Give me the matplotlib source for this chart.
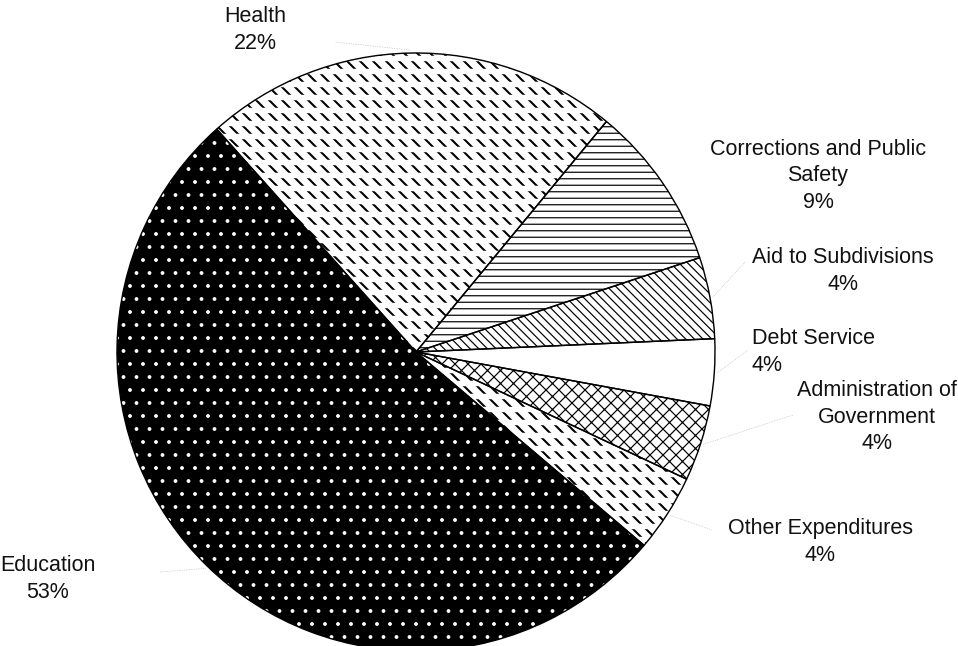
import matplotlib
matplotlib.use("Agg")
import matplotlib.pyplot as plt
import numpy as np

plt.rcParams['font.family'] = ['Liberation Sans', 'DejaVu Sans']

# ---- data ----
categories = ["Health", "Corrections and Public\nSafety", "Aid to Subdivisions",
              "Debt Service", "Administration of\nGovernment", "Other Expenditures",
              "Education"]
values = [22.6, 8.9, 4.4, 3.6, 4.1, 4.2, 52.2]
pct_labels = ["22%", "9%", "4%", "4%", "4%", "4%", "53%"]

# ---- styles / layout ----
W, H, DPI = 958, 646, 78
hatches = ['\\\\', '--', '\\\\\\', '', 'xx', '\\\\', '.']
hatch_lw = [1.9, 1.1, 1.1, 1.1, 1.1, 1.9, 1.1]
faces = ['white', 'white', 'white', 'white', 'white', 'white', 'black']
hatch_cols = ['black', 'black', 'black', 'black', 'black', 'black', 'white']
# white horizontal bands that break the diagonal strokes into dashes
break_hatch = ['-', '', '', '', '', '-', '']
# label anchor positions in pixels (x, y from top), alignment
label_pos = [(255, 30, 'center'), (818, 176, 'center'), (843, 271, 'center'),
             (752, 352, 'left'), (877, 417, 'center'), (820, 542, 'center'),
             (48, 579, 'center')]
leader_end = [(335, 42), None, (745, 262), (748, 350), (793, 415), (712, 530), (160, 572)]

cx, cy, R = 416, H - 352, 299
start = 131.8
FS = 15.5 * 100 / DPI  # font size in points to get ~21.5 px

fig = plt.figure(figsize=(W / DPI, H / DPI), dpi=DPI)
ax = fig.add_axes([0, 0, 1, 1])

wedges, _ = ax.pie(values, startangle=start, counterclock=False, center=(cx, cy),
                   radius=R, frame=True, wedgeprops=dict(linewidth=0))
for w, fc, hc, ht, hl in zip(wedges, faces, hatch_cols, hatches, hatch_lw):
    w.set_facecolor(fc)
    w.set_edgecolor(hc)
    w.set_hatch(ht)
    w.set_hatch_linewidth(hl)

brk, _ = ax.pie(values, startangle=start, counterclock=False, center=(cx, cy),
                radius=R, frame=True, wedgeprops=dict(linewidth=0, fill=False))
for w, bh in zip(brk, break_hatch):
    w.set_edgecolor('white')
    w.set_hatch(bh)
    w.set_hatch_linewidth(5.0)
    if not bh:
        w.set_visible(False)

ax.pie(values, startangle=start, counterclock=False, center=(cx, cy), radius=R,
       frame=True, wedgeprops=dict(fill=False, edgecolor='black', linewidth=1.3))

# labels
for cat, pct, (x, y, ha), w, le in zip(categories, pct_labels, label_pos, wedges, leader_end):
    ax.text(x, H - y, cat + "\n" + pct, ha=ha, va='center', multialignment=ha,
            fontsize=FS, linespacing=1.32, color='#111111')
    if le is not None:
        mid = np.deg2rad((w.theta1 + w.theta2) / 2)
        sx, sy = cx + R * 1.01 * np.cos(mid), cy + R * 1.01 * np.sin(mid)
        ax.plot([sx, le[0]], [sy, H - le[1]], color='#aaaaaa', lw=0.6, ls=':')

ax.set_xlim(0, W)
ax.set_ylim(0, H)
ax.set_aspect('equal')
ax.axis('off')
fig.savefig('out.png', dpi=DPI, facecolor='white')
